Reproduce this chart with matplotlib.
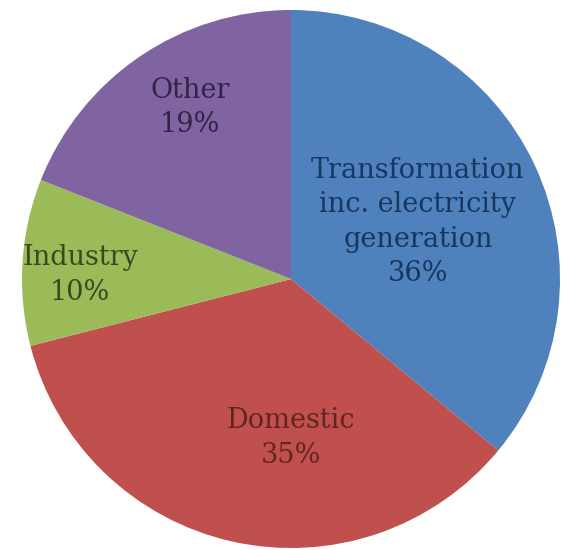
import matplotlib
matplotlib.use("Agg")
import matplotlib.pyplot as plt

# Share of emissions by source
categories = ["Transformation\ninc. electricity\ngeneration", "Domestic", "Industry", "Other"]
shares = [36, 35, 10, 19]
slice_colors = ["#4F81BD", "#C0504D", "#9BBB59", "#8064A2"]
text_colors = ["#17375E", "#632523", "#3B4A1E", "#2F2545"]
# label anchor points (x, y) in pie units
label_xy = [(0.472, 0.212), (0.0, -0.591), (-0.784, 0.015), (-0.375, 0.639)]

W, H, DPI = 571, 550, 100
fig = plt.figure(figsize=(W / DPI, H / DPI), dpi=DPI)
ax = fig.add_axes([0, 0, 1, 1])

wedges, _ = ax.pie(shares, colors=slice_colors, startangle=90, counterclock=False,
                   radius=1.0, wedgeprops=dict(linewidth=0))

# centre the pie at (291, 279) px with a 269 px radius
cx, cy, r = 291, 279, 269
ax.set_aspect("auto")
ax.set_xlim(-cx / r, (W - cx) / r)
ax.set_ylim(-(H - cy) / r, cy / r)
ax.axis("off")

for name, val, (x, y), col in zip(categories, shares, label_xy, text_colors):
    ax.text(x, y, f"{name}\n{val}%", ha="center", va="center", color=col,
            fontsize=19.5, family="DejaVu Serif", linespacing=1.34)

fig.savefig("out.png", dpi=DPI, facecolor="white")
